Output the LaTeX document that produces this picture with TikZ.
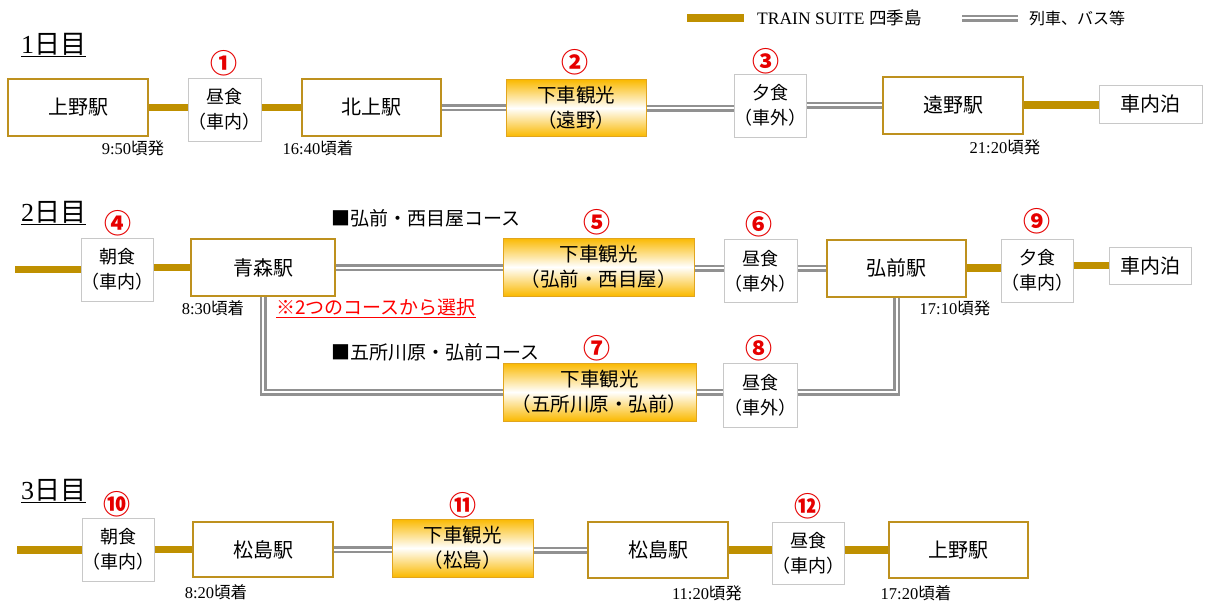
\documentclass[tikz,border=0pt]{standalone}
\usepackage{fontspec}
\setmainfont{Liberation Serif}
\newfontfamily\jp{Noto Sans CJK JP}
\usetikzlibrary{calc}
\definecolor{goldbar}{RGB}{191,144,0}
\definecolor{goldedge}{RGB}{190,145,30}
\definecolor{sightgold}{RGB}{250,185,0}
\definecolor{sightedge}{RGB}{225,165,30}
\definecolor{dblgray}{RGB}{145,145,145}
\definecolor{mealedge}{RGB}{200,200,200}
\definecolor{numred}{RGB}{230,0,0}
\tikzset{
  stn/.style={draw=goldedge, line width=2pt, fill=white, minimum height=57pt, inner sep=0pt,
    font=\jp\fontsize{20}{20}\selectfont},
  meal/.style={draw=mealedge, line width=1pt, fill=white, minimum width=73pt, minimum height=63pt,
    inner sep=0pt, align=center, font=\jp\fontsize{18}{25}\selectfont},
  stay/.style={draw=mealedge, line width=1pt, fill=white, minimum height=38pt, inner sep=0pt,
    font=\jp\fontsize{20}{20}\selectfont},
  sight/.style={draw=sightedge, line width=1pt, top color=sightgold, bottom color=sightgold,
    middle color=white, minimum height=57pt, inner sep=0pt, align=center,
    font=\jp\fontsize{19.5}{25}\selectfont},
  num/.style={text=numred, font=\jp\bfseries\fontsize{27}{27}\selectfont, inner sep=0pt},
  tlbl/.style={font=\fontsize{16.5}{16.5}\selectfont, inner sep=0pt},
  daylbl/.style={anchor=west, inner sep=0pt, font=\jp\fontsize{26}{26}\selectfont},
  course/.style={anchor=west, inner sep=0pt, font=\jp\fontsize{19}{19}\selectfont},
  trainline/.style={draw=goldbar, line width=7.5pt},
  otherline/.style={draw=dblgray, line width=2.5pt, double=white, double distance=2pt},
}
\begin{document}
\begin{tikzpicture}[x=1pt,y=-1pt]
\useasboundingbox[fill=white] (0,0) rectangle (1206,608);

% ---------- legend ----------
\coordinate (lg1a) at (687,18);
\coordinate (lg1b) at (744,18);
\coordinate (lg2a) at (962,18);
\coordinate (lg2b) at (1018,18);
\draw[trainline] (lg1a) -- (lg1b);
\draw[otherline] (lg2a) -- (lg2b);
\node[anchor=west, inner sep=0pt, font=\fontsize{17.5}{17.5}\selectfont] (lgt1) at (757,18) {TRAIN SUITE {\jp 四季島}};
\node[anchor=west, inner sep=0pt, font=\jp\fontsize{16}{16}\selectfont] (lgt2) at (1029,18) {列車、バス等};

% ---------- day 1 ----------
\node[daylbl] (d1) at (21,45) {\underline{{\rmfamily 1}日目}};
\node[stn, minimum width=140pt] (u1) at (78,107.5) {上野駅};
\node[meal] (m1) at (224.5,109.5) {昼食\\（車内）};
\node[stn, minimum width=139pt] (k1) at (371,107.5) {北上駅};
\node[sight, minimum width=140pt] (s2) at (576,108) {下車観光\\（遠野）};
\node[meal, minimum width=72pt] (m3) at (770,105.5) {夕食\\（車外）};
\node[stn, minimum width=140pt] (t1) at (953,105) {遠野駅};
\node[stay, minimum width=103pt] (n1) at (1150.5,104) {車内泊};

\node[num] (c1) at (224,63) {①};
\node[num] (c2) at (575,62) {②};
\node[num] (c3) at (766,61) {③};

\node[tlbl] (tm1) at (133,148) {9:50{\jp 頃発}};
\node[tlbl] (tm2) at (318,148) {16:40{\jp 頃着}};
\node[tlbl] (tm3) at (1005,147) {21:20{\jp 頃発}};

\draw[trainline] (u1.east) -- (u1.east -| m1.west);
\draw[trainline] (m1.east |- k1.west) -- (k1.west);
\draw[otherline] (k1.east) -- (k1.east -| s2.west);
\draw[otherline] (s2.east) -- (s2.east -| m3.west);
\draw[otherline] (m3.east |- t1.west) -- (t1.west);
\draw[trainline] (t1.east) -- (t1.east -| n1.west);

% ---------- day 2 ----------
\node[daylbl] (d2) at (21,213) {\underline{{\rmfamily 2}日目}};
\coordinate (st2) at (15,269.5);
\node[meal, minimum width=72pt] (b4) at (117,269.5) {朝食\\（車内）};
\node[stn, minimum width=144pt] (a2) at (263,267.5) {青森駅};
\node[sight, minimum width=191pt, minimum height=58pt] (s5) at (598.5,267) {下車観光\\（弘前・西目屋）};
\node[meal] (m6) at (760.5,271) {昼食\\（車外）};
\node[stn, minimum width=139pt] (h2) at (896.5,268) {弘前駅};
\node[meal, minimum width=72pt] (m9) at (1037,270.5) {夕食\\（車内）};
\node[stay, minimum width=82pt, minimum height=37pt] (n2) at (1150,265.5) {車内泊};
\node[sight, minimum width=193pt, minimum height=58pt] (s7) at (599.5,392) {下車観光\\（五所川原・弘前）};
\node[meal, minimum width=74pt, minimum height=64pt] (m8) at (760,395) {昼食\\（車外）};

\node[num] (c4) at (118,223) {④};
\node[num] (c5) at (597,222) {⑤};
\node[num] (c6) at (759,224) {⑥};
\node[num] (c9) at (1037,221) {⑨};
\node[num] (c7) at (597,348) {⑦};
\node[num] (c8) at (759,348) {⑧};

\node[course] (co1) at (331,218) {■弘前・西目屋コース};
\node[course] (co2) at (331,352) {■五所川原・弘前コース};
\node[anchor=west, inner sep=0pt, text=red, font=\jp\fontsize{19}{19}\selectfont] (sel) at (276,308) {\underline{※2つのコースから選択}};

\node[tlbl] (tm4) at (213,308) {8:30{\jp 頃着}};
\node[tlbl] (tm5) at (955,308) {17:10{\jp 頃発}};

\draw[trainline] (st2) -- (st2 -| b4.west);
\draw[trainline] (b4.east |- a2.west) -- (a2.west);
\draw[otherline] (a2.east) -- (a2.east -| s5.west);
\draw[otherline] (s5.east |- h2.west) -- (s5.east |- h2.west -| m6.west);
\draw[otherline] (m6.east |- h2.west) -- (h2.west);
\draw[trainline] (h2.east) -- (h2.east -| m9.west);
\draw[trainline] (m9.east |- n2.west) -- (n2.west);
\draw[otherline] (a2.south) |- (s7.west);
\draw[otherline] (s7.east) -- (s7.east -| m8.west);
\draw[otherline] (m8.east |- s7.east) -| (h2.south);

% ---------- day 3 ----------
\node[daylbl] (d3) at (21,491) {\underline{{\rmfamily 3}日目}};
\coordinate (st3) at (17,550);
\node[meal, minimum width=72pt] (b10) at (118,549.5) {朝食\\（車内）};
\node[stn, minimum width=140pt, minimum height=55pt] (ms1) at (263,549.5) {松島駅};
\node[sight, minimum width=141pt, minimum height=58pt] (s11) at (462.5,548) {下車観光\\（松島）};
\node[stn, minimum width=140pt, minimum height=56pt] (ms2) at (658,550) {松島駅};
\node[meal, minimum width=71pt, minimum height=62pt] (m12) at (808.5,553) {昼食\\（車内）};
\node[stn, minimum width=139pt, minimum height=56pt] (u3) at (958.5,550) {上野駅};

\node[num] (c10) at (117,504) {⑩};
\node[num] (c11) at (463,505) {⑪};
\node[num] (c12) at (808,506) {⑫};

\node[tlbl] (tm6) at (216,592) {8:20{\jp 頃着}};
\node[tlbl] (tm7) at (707,593) {11:20{\jp 頃発}};
\node[tlbl] (tm8) at (916,593) {17:20{\jp 頃着}};

\draw[trainline] (st3) -- (st3 -| b10.west);
\draw[trainline] (b10.east |- ms1.west) -- (ms1.west);
\draw[otherline] (ms1.east) -- (ms1.east -| s11.west);
\draw[otherline] (s11.east |- ms2.west) -- (ms2.west);
\draw[trainline] (ms2.east) -- (ms2.east -| m12.west);
\draw[trainline] (m12.east |- u3.west) -- (u3.west);
\end{tikzpicture}
\end{document}
